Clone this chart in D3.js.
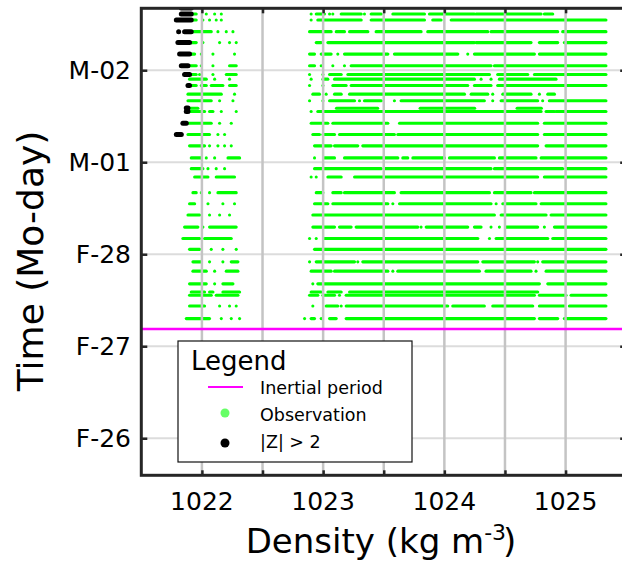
<!DOCTYPE html>
<html>
<head>
<meta charset="utf-8">
<script src="https://cdn.jsdelivr.net/npm/d3@7"></script>
<style>
  body { margin: 0; background: #fff; }
  svg { font-family: "DejaVu Sans", sans-serif; }
</style>
</head>
<body>
<div id="chart"></div>
<script>
// time axis is in days counted from Feb-26 00:00
var dayTicks = [0, 1, 2, 3, 4];
var dayLabels = ["F-26", "F-27", "F-28", "M-01", "M-02"];
var densTicks = [1022, 1023, 1024, 1025];
var densGrid = [1022, 1022.5, 1023, 1023.5, 1024, 1024.5, 1025];

// inertial period marker
var inertialTime = 1.187;

// observation rows: time of the profile, then runs of densities [from, to] (single number = lone point)
var obsTime = [4.611, 4.546, 4.419, 4.300, 4.175, 4.049, 3.954, 3.903, 3.834, 3.740,
               3.668, 3.587, 3.551, 3.424, 3.301, 3.178, 3.047, 2.930, 2.840, 2.669,
               2.549, 2.426, 2.295, 2.171, 2.053, 1.917, 1.816, 1.678, 1.590, 1.554,
               1.438, 1.300];
var obsRuns = [
  [[1021.912,1021.953],1022.036,1022.105,1022.160, 1022.901,[1022.943,1023.011],1023.053,1023.080,[1023.149,1023.314],1023.341,[1023.396,1023.479],[1023.575,1023.836],[1023.877,1024.248],[1024.262,1024.798],[1024.825,1024.894]],
  [[1021.912,1021.953],1022.008,1022.063,1022.118,1022.160, 1022.901,[1022.956,1023.314],[1023.396,1023.836],[1023.904,1023.973],[1024.056,1025.333]],
  [[1021.912,1022.077],1022.132,1022.201,1022.256, [1022.888,1023.066],[1023.108,1023.176],[1023.218,1023.369],[1023.437,1023.808],[1023.863,1024.358],[1024.385,1024.935],[1024.976,1025.333]],
  [[1021.912,1021.953],1022.008,1022.146,1022.228,1022.283, [1022.943,1022.984],[1023.039,1024.248],[1024.262,1024.715],[1024.784,1024.935],[1024.990,1025.333]],
  [[1021.898,1021.940],1021.995,1022.091,1022.269, [1022.888,1022.929],[1022.984,1023.066],1023.121,[1023.176,1023.534],[1023.588,1024.111],1024.193,[1024.248,1024.743],[1024.784,1025.333]],
  [[1021.898,1021.953],1021.995,1022.091,[1022.228,1022.283], [1022.888,1022.929],1022.984,1023.080,1023.176,[1023.231,1024.385],[1024.413,1025.333]],
  [[1021.912,1021.953],1021.981,1022.091,[1022.201,1022.283], 1022.888,1022.998,[1023.053,1023.149],[1023.204,1024.372],[1024.440,1024.688],[1024.743,1025.333]],
  [[1021.898,1022.036],1022.105,1022.228, 1022.901,[1022.998,1023.039],[1023.094,1024.248],1024.303,1024.385,[1024.454,1024.921]],
  [[1021.912,1021.953],[1021.995,1022.036],[1022.077,1022.173],[1022.228,1022.283], 1022.888,1022.998,[1023.080,1023.190],[1023.231,1024.193],[1024.248,1024.385],[1024.440,1025.333]],
  [[1021.885,1022.160],1022.269, [1022.915,1022.970],1023.025,[1023.094,1023.149],[1023.218,1024.166],[1024.221,1024.358],1024.399,[1024.482,1024.715],1024.784,[1024.853,1024.908]],
  [[1021.885,1022.077],1022.146,1022.256, 1022.888,1022.998,[1023.053,1023.259],1023.300,[1023.341,1023.479],1023.588,[1023.643,1024.330],1024.399,[1024.468,1024.770],1024.811,[1024.866,1025.333]],
  [[1021.898,1021.967], [1023.110,1023.450],[1023.800,1024.250],[1024.600,1024.800]],
  [[1021.885,1022.022],[1022.063,1022.091],1022.160,1022.283, 1022.901,[1022.956,1024.798],[1024.839,1024.908],[1024.921,1025.333]],
  [[1021.885,1022.077],1022.146,1022.242, [1022.901,1023.039],[1023.080,1023.534],[1023.630,1024.770],[1024.825,1025.333]],
  [[1021.885,1022.063],1022.132,1022.187, [1022.915,1022.970],[1022.998,1023.094],[1023.135,1023.588],[1023.616,1024.770],[1024.825,1025.333]],
  [[1021.898,1022.022],1022.063,1022.132,1022.187,1022.242, [1022.929,1023.066],[1023.094,1023.286],[1023.327,1024.770],[1024.839,1025.333]],
  [[1021.912,1021.995],1022.036,1022.105,[1022.215,1022.311], 1022.929,[1023.011,1023.094],[1023.176,1023.616],[1023.657,1023.698],[1023.740,1024.001],[1024.042,1024.413],[1024.454,1024.756],[1024.798,1025.333]],
  [[1021.912,1022.008],1022.050,1022.118,1022.187, [1022.929,1023.479],[1023.506,1024.385],[1024.413,1024.976],[1025.004,1025.333]],
  [[1021.940,1022.050],[1022.118,1022.269], 1022.901,1022.943,[1023.039,1023.149],[1023.259,1024.770],[1024.825,1025.333]],
  [[1021.926,1021.953],1021.995,1022.063,[1022.132,1022.283], [1022.943,1022.998],[1023.080,1023.149],[1023.176,1023.588],[1023.643,1024.372],[1024.413,1024.715],[1024.743,1025.333]],
  [[1021.898,1021.940],1022.050,1022.173,1022.269, [1022.929,1023.039],[1023.080,1023.534],1023.575,[1023.630,1024.385],1024.427,[1024.482,1024.756],[1024.798,1025.333]],
  [[1021.885,1021.981],1022.063,1022.146,1022.228, [1022.915,1024.413],[1024.468,1024.839],[1024.880,1025.333]],
  [[1021.857,1021.967],1022.008,[1022.063,1022.283], [1022.915,1023.094],[1023.135,1023.231],[1023.272,1023.781],1023.808,[1023.850,1024.193],[1024.248,1024.303],1024.385,1024.454,[1024.509,1024.770],1024.825,[1024.908,1025.333]],
  [[1021.843,1021.981],[1022.022,1022.242], 1022.888,1022.943,[1023.011,1024.276],1024.372,[1024.427,1024.853],[1024.894,1025.333]],
  [[1021.898,1021.981],1022.077,1022.173,1022.283, [1022.929,1025.333]],
  [[1021.926,1021.995],1022.063,1022.173,[1022.242,1022.297], 1022.888,[1022.943,1023.259],1023.286,[1023.327,1024.276],[1024.317,1024.743],1024.770,[1024.811,1025.333]],
  [[1021.926,1022.036],1022.105,[1022.201,1022.297], [1022.901,1023.066],[1023.094,1023.534],1023.575,[1023.616,1024.289],[1024.344,1024.715],1024.756,[1024.839,1025.333]],
  [[1021.898,1022.036],1022.105,[1022.173,1022.256], 1022.915,[1022.956,1024.784],[1024.853,1025.333]],
  [[1021.912,1022.022],[1022.063,1022.091],[1022.173,1022.311], [1022.901,1022.984],[1023.039,1023.149],[1023.218,1024.770]],
  [[1021.898,1022.077],[1022.118,1022.297], [1022.888,1022.956],[1022.998,1023.094],1023.135,[1023.190,1024.743],[1024.784,1025.004],[1025.045,1025.333]],
  [[1021.898,1022.022],1022.146,1022.228,1022.283, 1022.915,[1023.025,1023.121],1023.149,[1023.190,1024.028],[1024.069,1024.330],[1024.399,1024.729],[1024.784,1024.990],[1025.031,1025.333]],
  [[1021.871,1022.063],1022.160,1022.242,1022.311, 1022.847,[1022.901,1022.929],1022.984,[1023.053,1023.108],[1023.190,1024.743],[1024.784,1024.935],[1024.990,1025.333]]
];

// outliers |Z| > 2
var zTime = [4.675, 4.611, 4.546, 4.419, 4.300, 4.175, 4.049, 3.954, 3.834, 3.590, 3.551, 3.424, 3.301];
var zRuns = [
  [[1021.830,1021.912]],
  [[1021.830,1021.912]],
  [[1021.789,1021.912]],
  [1021.808,[1021.857,1021.912]],
  [[1021.802,1021.898]],
  [[1021.816,1021.898]],
  [[1021.830,1021.885]],
  [[1021.857,1021.898]],
  [[1021.885,1021.898]],
  [[1021.871,1021.885]],
  [[1021.871,1021.885]],
  [[1021.843,1021.871]],
  [[1021.789,1021.830]]
];

var legendItems = ["Inertial period", "Observation", "|Z| > 2"];

var width = 622, height = 564;
var pL = 141.3, pR = 626.2, pT = 8.3, pB = 475.3;

var svg = d3.select("#chart").append("svg")
  .attr("width", width)
  .attr("height", height);

var x = d3.scaleLinear().domain([1021.5, 1025.5]).range([pL, pR]);
var y = d3.scaleLinear().domain([-0.403, 4.673]).range([pB, pT]);

svg.append("clipPath").attr("id", "plotclip")
  .append("rect")
  .attr("x", pL).attr("y", pT)
  .attr("width", pR - pL).attr("height", pB - pT);

var plot = svg.append("g").attr("clip-path", "url(#plotclip)");

//flatten rows into drawable segments
function toSegments(times, runs) {
  var segs = [];
  times.forEach(function(t, i) {
    runs[i].forEach(function(r) {
      var a = Array.isArray(r) ? r : [r, r];
      segs.push({t: t, d0: a[0], d1: a[1]});
    });
  });
  return segs;
}

//observations
plot.append("g").selectAll("line")
  .data(toSegments(obsTime, obsRuns))
  .enter().append("line")
  .attr("x1", function(d) { return x(d.d0); })
  .attr("x2", function(d) { return x(d.d1); })
  .attr("y1", function(d) { return y(d.t); })
  .attr("y2", function(d) { return y(d.t); })
  .attr("stroke", "#00ff00")
  .attr("stroke-width", 3.1)
  .attr("stroke-linecap", "round");

//outliers
plot.append("g").selectAll("line")
  .data(toSegments(zTime, zRuns))
  .enter().append("line")
  .attr("x1", function(d) { return x(d.d0); })
  .attr("x2", function(d) { return x(d.d1); })
  .attr("y1", function(d) { return y(d.t); })
  .attr("y2", function(d) { return y(d.t); })
  .attr("stroke", "#000")
  .attr("stroke-width", 5)
  .attr("stroke-linecap", "round");

//grid lines sit above the points
plot.append("g").selectAll("line")
  .data(dayTicks)
  .enter().append("line")
  .attr("x1", pL).attr("x2", pR)
  .attr("y1", function(d) { return y(d); })
  .attr("y2", function(d) { return y(d); })
  .attr("stroke", "#dcdcdc")
  .attr("stroke-width", 2);

plot.append("g").selectAll("line")
  .data(densGrid)
  .enter().append("line")
  .attr("y1", pT).attr("y2", pB)
  .attr("x1", function(d) { return x(d); })
  .attr("x2", function(d) { return x(d); })
  .attr("stroke", "#c4c4c4")
  .attr("stroke-width", 2.5);

//inertial period line
plot.append("line")
  .attr("x1", pL).attr("x2", pR)
  .attr("y1", y(inertialTime)).attr("y2", y(inertialTime))
  .attr("stroke", "#ff00ff")
  .attr("stroke-width", 2.5);

//axes with inward ticks
var xb = svg.append("g").attr("transform", "translate(0," + pB + ")")
  .call(d3.axisBottom(x).tickValues(densGrid).tickSize(-5).tickFormat(""));
var xt = svg.append("g").attr("transform", "translate(0," + pT + ")")
  .call(d3.axisTop(x).tickValues(densGrid).tickSize(-5).tickFormat(""));
var yl = svg.append("g").attr("transform", "translate(" + pL + ",0)")
  .call(d3.axisLeft(y).tickValues(dayTicks).tickSize(-6).tickFormat(""));
var yr = svg.append("g").attr("transform", "translate(" + pR + ",0)")
  .call(d3.axisRight(y).tickValues(dayTicks).tickSize(-6).tickFormat(""));

[xb, xt, yl, yr].forEach(function(g) {
  g.select(".domain").remove();
  g.selectAll(".tick line").attr("stroke", "#262626").attr("stroke-width", 2.5);
});

//frame
svg.append("rect")
  .attr("x", pL).attr("y", pT)
  .attr("width", pR - pL).attr("height", pB - pT)
  .attr("fill", "none")
  .attr("stroke", "#262626")
  .attr("stroke-width", 3);

//tick labels
svg.append("g").selectAll("text")
  .data(densTicks)
  .enter().append("text")
  .attr("x", function(d) { return x(d); })
  .attr("y", 510)
  .attr("text-anchor", "middle")
  .style("font-size", "25px")
  .text(function(d) { return d; });

svg.append("g").selectAll("text")
  .data(dayTicks)
  .enter().append("text")
  .attr("x", 131)
  .attr("y", function(d) { return y(d) + 9; })
  .attr("text-anchor", "end")
  .style("font-size", "25px")
  .text(function(d, i) { return dayLabels[i]; });

//axis titles
var xtitle = svg.append("text")
  .attr("x", 381)
  .attr("y", 553)
  .attr("text-anchor", "middle")
  .style("font-size", "34px");
xtitle.append("tspan").text("Density (kg m");
xtitle.append("tspan").attr("dy", -13).style("font-size", "22px").text("-3");
xtitle.append("tspan").attr("dy", 13).attr("dx", -3).text(")");

svg.append("text")
  .attr("transform", "translate(43,261) rotate(-90)")
  .attr("text-anchor", "middle")
  .style("font-size", "36px")
  .text("Time (Mo-day)");

//legend
var lg = svg.append("g");
lg.append("rect")
  .attr("x", 178).attr("y", 341)
  .attr("width", 234).attr("height", 121)
  .attr("fill", "#fff")
  .attr("stroke", "#111")
  .attr("stroke-width", 1.2);
lg.append("text")
  .attr("x", 191).attr("y", 370)
  .style("font-size", "26px")
  .text("Legend");
lg.append("line")
  .attr("x1", 208).attr("x2", 243)
  .attr("y1", 387).attr("y2", 387)
  .attr("stroke", "#ff00ff")
  .attr("stroke-width", 2);
lg.append("circle")
  .attr("cx", 225).attr("cy", 413).attr("r", 4.5)
  .attr("fill", "#66ff66");
lg.append("circle")
  .attr("cx", 225).attr("cy", 443).attr("r", 4.5)
  .attr("fill", "#000");
lg.selectAll(".item")
  .data(legendItems)
  .enter().append("text")
  .attr("class", "item")
  .attr("x", 260)
  .attr("y", function(d, i) { return 394 + i * 27; })
  .style("font-size", "17.5px")
  .text(function(d) { return d; });
</script>
</body>
</html>
